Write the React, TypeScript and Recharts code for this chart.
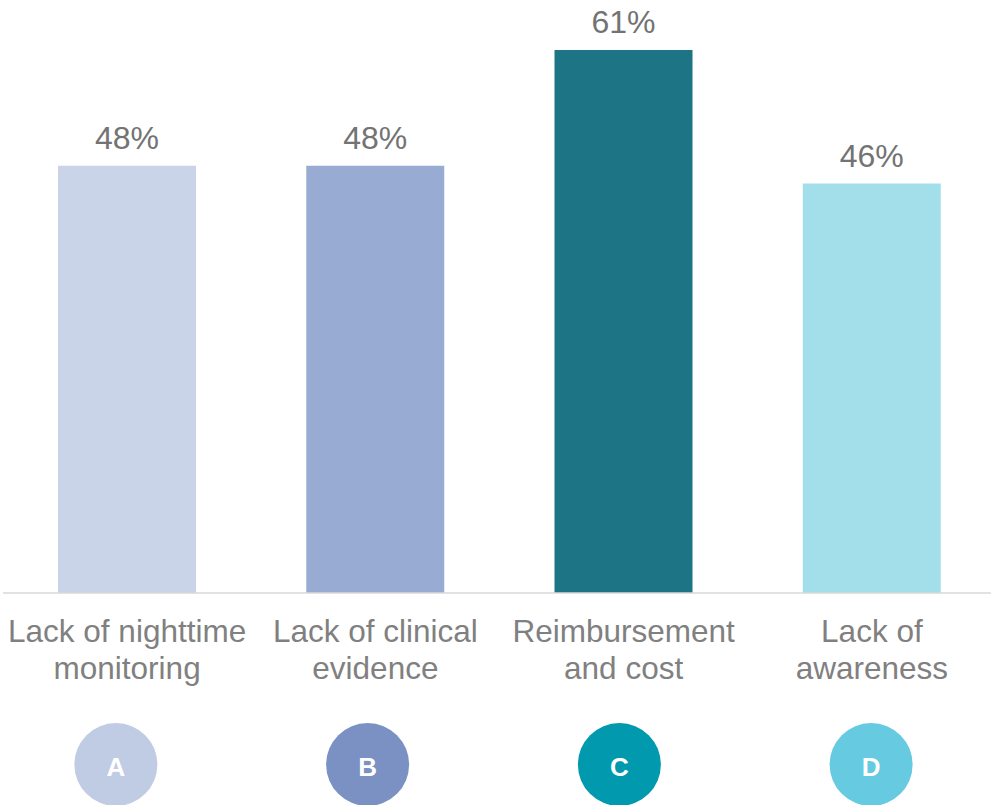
import React from 'react';
import { Bar, BarChart, Cell, LabelList, XAxis, YAxis } from 'recharts';

const categories = ['Lack of nighttime|monitoring', 'Lack of clinical|evidence', 'Reimbursement|and cost', 'Lack of|awareness'];
const values = [48, 48, 61, 46];
const letters = ['A', 'B', 'C', 'D'];
const barColors = ['#cad4e8', '#98acd3', '#1d7485', '#a3dfea'];
const badgeColors = ['#c0cbe4', '#7b91c4', '#0099ad', '#66cae0'];

const data = categories.map((name, i) => ({ name, letter: letters[i], value: values[i] }));

const CategoryTick = (props: any) => {
  const { x, y, payload } = props;
  const lines = String(payload.value).split('|');
  return (
    <text x={x} y={y} textAnchor="middle" fill="#808080" fontSize={31.5} fontFamily="'Liberation Sans', Arial, sans-serif">
      {lines.map((line, i) => (
        <tspan key={i} x={x} y={y + 49 + i * 37}>
          {line}
        </tspan>
      ))}
    </text>
  );
};

const BadgeTick = (props: any) => {
  const { x, y, payload, index } = props;
  return (
    <g>
      <circle cx={x} cy={y + 61.5} r={41.5} fill={badgeColors[index]} />
      <text x={x} y={y + 73} textAnchor="middle" fill="#ffffff" fontSize={26} fontWeight="bold" fontFamily="'Liberation Sans', Arial, sans-serif">
        {payload.value}
      </text>
    </g>
  );
};

export default function App() {
  return (
    <div style={{ position: 'fixed', left: 0, top: 0, width: 991, height: 805, overflow: 'hidden', background: '#fff' }}>
      <BarChart width={996} height={805} data={data} margin={{ top: 50, right: 0, left: 3, bottom: 0 }}>
        <XAxis
          dataKey="name"
          xAxisId={0}
          height={110}
          interval={0}
          tickSize={0}
          tickMargin={0}
          tickLine={false}
          axisLine={{ stroke: '#d9d9d9', strokeWidth: 1.5 }}
          tick={<CategoryTick />}
        />
        <XAxis
          dataKey="letter"
          xAxisId={1}
          height={102}
          interval={0}
          tickSize={0}
          tickMargin={0}
          tickLine={false}
          axisLine={false}
          padding={{ left: -13, right: -1 }}
          tick={<BadgeTick />}
        />
        <YAxis hide domain={[0, 61]} />
        <Bar dataKey="value" xAxisId={0} barSize={138} isAnimationActive={false}>
          {data.map((d, i) => (
            <Cell key={d.letter} fill={barColors[i]} />
          ))}
          <LabelList
            dataKey="value"
            position="top"
            offset={17}
            formatter={(v: any) => `${v}%`}
            fill="#737373"
            fontSize={32}
            fontFamily="'Liberation Sans', Arial, sans-serif"
          />
        </Bar>
      </BarChart>
    </div>
  );
}
